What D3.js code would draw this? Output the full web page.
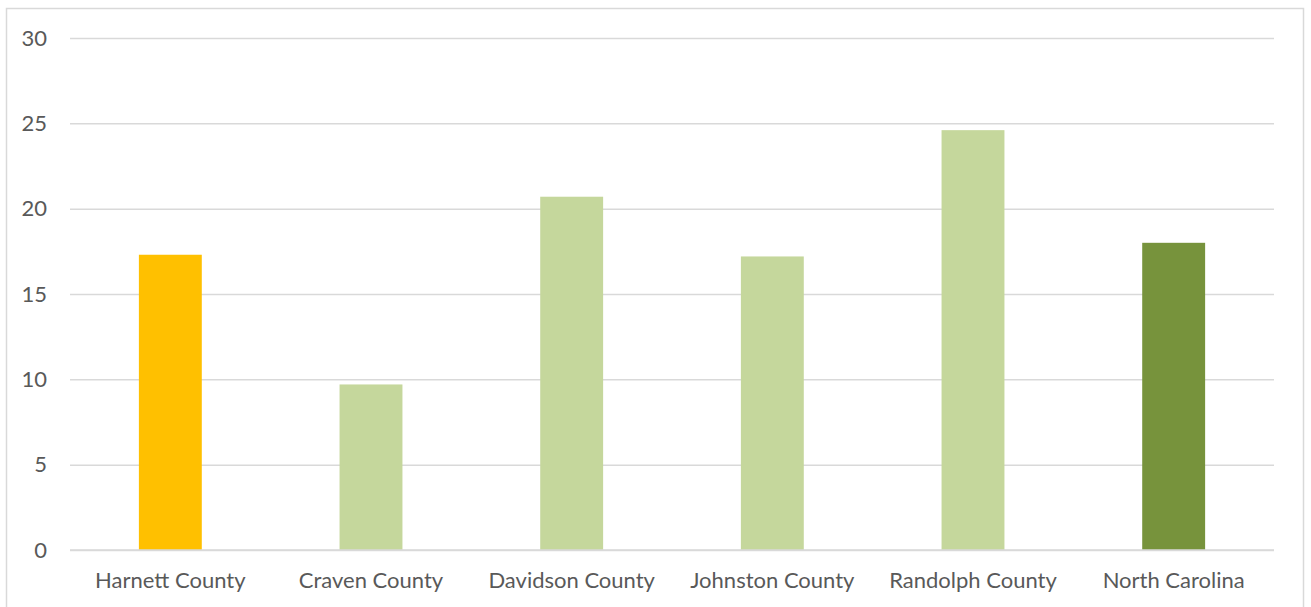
<!DOCTYPE html>
<html>
<head>
<meta charset="utf-8">
<script src="https://cdn.jsdelivr.net/npm/d3@7"></script>
<style>
  html, body { margin: 0; padding: 0; background: #fff; }
  svg { display: block; }
  text { font-family: Lato, "Open Sans", sans-serif; fill: #595959; }
</style>
</head>
<body>
<svg id="chart" width="1311" height="607"></svg>
<script>
const categories = ["Harnett County", "Craven County", "Davidson County", "Johnston County", "Randolph County", "North Carolina"];
const values = [17.3, 9.7, 20.7, 17.2, 24.6, 18.0];
const barColors = ["#FFC000", "#C5D79C", "#C5D79C", "#C5D79C", "#C5D79C", "#77933C"];
const yTicks = [0, 5, 10, 15, 20, 25, 30];

const svg = d3.select("#chart");
const plot = { left: 70, right: 1274, top: 38, bottom: 550 };

// outer border
svg.append("rect")
  .attr("x", 6.5).attr("y", 8.5)
  .attr("width", 1297).attr("height", 610)
  .attr("fill", "#fff").attr("stroke", "#d9d9d9").attr("stroke-width", 1.5);

const x = d3.scaleBand()
  .domain(categories)
  .range([plot.left, plot.right])
  .paddingInner(2.19 / 3.19)
  .paddingOuter(2.19 / 3.19 / 2);

const y = d3.scaleLinear().domain([0, 30]).range([plot.bottom, plot.top]);

// gridlines
const yAxis = d3.axisLeft(y).tickValues(yTicks).tickSize(-(plot.right - plot.left)).tickPadding(23);
const gy = svg.append("g").attr("transform", `translate(${plot.left},0)`).call(yAxis);
gy.select(".domain").remove();
gy.selectAll(".tick line").attr("stroke", "#d9d9d9").attr("stroke-width", 1.5);
gy.selectAll(".tick text").attr("font-size", 22).attr("fill", "#595959")
  .style("font-family", "Lato, 'Open Sans', sans-serif");

// bars
svg.append("g").selectAll("rect")
  .data(categories)
  .join("rect")
  .attr("x", d => x(d))
  .attr("width", x.bandwidth())
  .attr("y", (d, i) => y(values[i]))
  .attr("height", (d, i) => y(0) - y(values[i]))
  .attr("fill", (d, i) => barColors[i]);

// baseline redraw on top
svg.append("line")
  .attr("x1", plot.left).attr("x2", plot.right)
  .attr("y1", y(0)).attr("y2", y(0))
  .attr("stroke", "#d9d9d9").attr("stroke-width", 1.5);

// x axis labels
const xAxis = d3.axisBottom(x).tickSize(0).tickPadding(22);
const gx = svg.append("g").attr("transform", `translate(0,${plot.bottom})`).call(xAxis);
gx.select(".domain").remove();
gx.selectAll(".tick text").attr("font-size", 22).attr("fill", "#595959")
  .style("font-family", "Lato, 'Open Sans', sans-serif");
</script>
</body>
</html>
